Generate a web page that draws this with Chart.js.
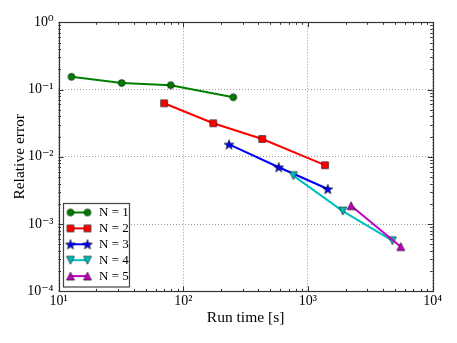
<!DOCTYPE html>
<html>
<head>
<meta charset="utf-8">
<script src="https://cdn.jsdelivr.net/npm/chart.js@4/dist/chart.umd.min.js"></script>
<style>
  html, body { margin: 0; padding: 0; background: #ffffff; }
  #wrap { width: 457px; height: 343px; position: relative; }
</style>
</head>
<body>
<div id="wrap"><canvas id="c" width="457" height="343"></canvas></div>
<script>
// ---- Data ----
const seriesLabels = ['N = 1', 'N = 2', 'N = 3', 'N = 4', 'N = 5'];
const runTimeN1 = [12.7, 32.1, 79.4, 252];
const errorN1   = [0.155, 0.125, 0.116, 0.0767];
const runTimeN2 = [70.2, 174, 430, 1370];
const errorN2   = [0.0625, 0.0315, 0.0184, 0.0075];
const runTimeN3 = [233, 583, 1442];
const errorN3   = [0.0153, 0.0070, 0.00332];
const runTimeN4 = [763, 1901, 4753];
const errorN4   = [0.00524, 0.00156, 0.000565];
const runTimeN5 = [2216, 5548];
const errorN5   = [0.001875, 0.000461];
const xTickValues = [10, 100, 1000, 10000];
const xTickLabels = ['10¹', '10²', '10³', '10⁴'];
const yTickValues = [0.0001, 0.001, 0.01, 0.1, 1];
const yTickLabels = ['10⁻⁴', '10⁻³', '10⁻²', '10⁻¹', '10⁰'];

const colors = ['#008000', '#ff0000', '#0000ff', '#00bfbf', '#bf00bf'];
const SERIF = '"Liberation Serif", "DejaVu Serif", serif';

function makeMarker(kind, color) {
  const S = 18, c = S / 2;
  const cv = document.createElement('canvas');
  cv.width = S; cv.height = S;
  const g = cv.getContext('2d');
  g.fillStyle = color;
  g.strokeStyle = '#000';
  g.lineWidth = 0.6;
  g.beginPath();
  if (kind === 'circle') {
    g.arc(c, c, 3.4, 0, Math.PI * 2);
  } else if (kind === 'square') {
    g.rect(c - 3.4, c - 3.4, 6.8, 6.8);
  } else if (kind === 'star') {
    const R = 5.2, r = 2.1;
    for (let i = 0; i < 10; i++) {
      const rad = i % 2 === 0 ? R : r;
      const a = -Math.PI / 2 + i * Math.PI / 5;
      const px = c + rad * Math.cos(a), py = c + rad * Math.sin(a) + 0.5;
      if (i === 0) g.moveTo(px, py); else g.lineTo(px, py);
    }
    g.closePath();
  } else if (kind === 'tridown') {
    const h = 4;
    g.moveTo(c - h, c - h); g.lineTo(c + h, c - h); g.lineTo(c, c + h); g.closePath();
  } else if (kind === 'triup') {
    const h = 4;
    g.moveTo(c - h, c + h); g.lineTo(c + h, c + h); g.lineTo(c, c - h); g.closePath();
  }
  g.fill();
  g.stroke();
  return cv;
}
const markerKinds = ['circle', 'square', 'star', 'tridown', 'triup'];
const markers = markerKinds.map((k, i) => makeMarker(k, colors[i]));

function pts(xs, ys) { return xs.map((x, i) => ({ x: x, y: ys[i] })); }
const allX = [runTimeN1, runTimeN2, runTimeN3, runTimeN4, runTimeN5];
const allY = [errorN1, errorN2, errorN3, errorN4, errorN5];

const datasets = seriesLabels.map((lab, i) => ({
  label: lab,
  data: pts(allX[i], allY[i]),
  borderColor: colors[i],
  backgroundColor: colors[i],
  borderWidth: 2,
  pointStyle: markers[i],
  pointRadius: 4,
  pointHoverRadius: 4,
  tension: 0,
  fill: false,
  order: 5 - i
}));

function isDecade(v) {
  const l = Math.log10(v);
  return Math.abs(l - Math.round(l)) < 1e-6;
}

const framePlugin = {
  id: 'frameAndTicks',
  afterDatasetsDraw(chart) {
    const { ctx, chartArea: a, scales } = chart;
    const xs = scales.x, ys = scales.y;
    ctx.save();
    ctx.strokeStyle = '#333';
    ctx.lineWidth = 1;
    // minor + major ticks, inward, all four sides
    const major = 5, minor = 2.5;
    for (let e = 1; e <= 4; e++) {
      for (let m = 1; m <= 9; m++) {
        const v = m * Math.pow(10, e);
        if (v > 10000 + 1e-9) continue;
        const px = Math.round(xs.getPixelForValue(v)) + 0.5;
        const len = m === 1 ? major : minor;
        ctx.beginPath();
        ctx.moveTo(px, a.bottom); ctx.lineTo(px, a.bottom - len);
        ctx.moveTo(px, a.top); ctx.lineTo(px, a.top + len);
        ctx.stroke();
      }
    }
    for (let e = -4; e <= 0; e++) {
      for (let m = 1; m <= 9; m++) {
        const v = m * Math.pow(10, e);
        if (v > 1 + 1e-9) continue;
        const py = Math.round(ys.getPixelForValue(v)) + 0.5;
        const len = m === 1 ? major : minor;
        ctx.beginPath();
        ctx.moveTo(a.left, py); ctx.lineTo(a.left + len, py);
        ctx.moveTo(a.right, py); ctx.lineTo(a.right - len, py);
        ctx.stroke();
      }
    }
    ctx.lineWidth = 1.2;
    ctx.strokeRect(Math.round(a.left) + 0.5, Math.round(a.top) + 0.5,
                   Math.round(a.right - a.left), Math.round(a.bottom - a.top));
    ctx.restore();
  },
  afterDraw(chart) {
    // legend (lower left, matplotlib style: line with marker at both ends)
    const { ctx, chartArea: a } = chart;
    const bx = a.left + 5, by = 203.5, bw = 66, bh = 83.5;
    ctx.save();
    ctx.fillStyle = '#fff';
    ctx.fillRect(bx, by, bw, bh);
    ctx.strokeStyle = '#444';
    ctx.lineWidth = 1.2;
    ctx.strokeRect(bx, by, bw, bh);
    ctx.font = '13px ' + SERIF;
    ctx.textBaseline = 'middle';
    ctx.textAlign = 'left';
    chart.data.datasets.forEach((ds, i) => {
      const y = by + 9 + i * 15.9;
      const x0 = bx + 7, x1 = bx + 24;
      ctx.strokeStyle = ds.borderColor;
      ctx.lineWidth = 2;
      ctx.beginPath(); ctx.moveTo(x0, y); ctx.lineTo(x1, y); ctx.stroke();
      const mk = ds.pointStyle;
      ctx.drawImage(mk, x0 - mk.width / 2, y - mk.height / 2);
      ctx.drawImage(mk, x1 - mk.width / 2, y - mk.height / 2);
      ctx.fillStyle = '#000';
      ctx.fillText(ds.label, bx + 35.5, y + 0.5);
    });
    ctx.restore();
  }
};

const gridDash = [1, 2];
new Chart(document.getElementById('c'), {
  type: 'line',
  data: { datasets: datasets },
  options: {
    responsive: false,
    animation: false,
    events: [],
    layout: { padding: { top: 22.3, right: 24.3, left: 0, bottom: 0 } },
    plugins: { legend: { display: false }, tooltip: { enabled: false } },
    scales: {
      x: {
        type: 'logarithmic',
        min: 10, max: 10000,
        afterFit(s) { s.height = 51.7; },
        afterBuildTicks(s) { s.ticks = xTickValues.map(v => ({ value: v })); },
        ticks: {
          autoSkip: false, maxRotation: 0, padding: 2,
          color: '#000',
          font: { family: SERIF, size: 14 },
          callback(v) { const i = xTickValues.indexOf(v); return i >= 0 ? xTickLabels[i] : null; }
        },
        grid: { color: '#9a9a9a', lineWidth: 1, drawTicks: false },
        border: { display: false, dash: gridDash },
        title: {
          display: true, text: 'Run time [s]', color: '#000',
          font: { family: SERIF, size: 15.5 }, padding: { top: 0, bottom: 15.7 }
        }
      },
      y: {
        type: 'logarithmic',
        min: 0.0001, max: 1,
        afterFit(s) { s.width = 58.5; },
        afterBuildTicks(s) { s.ticks = yTickValues.map(v => ({ value: v })); },
        ticks: {
          autoSkip: false, padding: 5,
          color: '#000',
          font: { family: SERIF, size: 14 },
          callback(v) { const i = yTickValues.findIndex(t => Math.abs(t - v) < t * 1e-6); return i >= 0 ? yTickLabels[i] : null; }
        },
        grid: { color: '#9a9a9a', lineWidth: 1, drawTicks: false },
        border: { display: false, dash: gridDash },
        title: {
          display: true, text: 'Relative error', color: '#000',
          font: { family: SERIF, size: 15.5 }, padding: { top: 10.7, bottom: 0 }
        }
      }
    }
  },
  plugins: [framePlugin]
});
</script>
</body>
</html>
